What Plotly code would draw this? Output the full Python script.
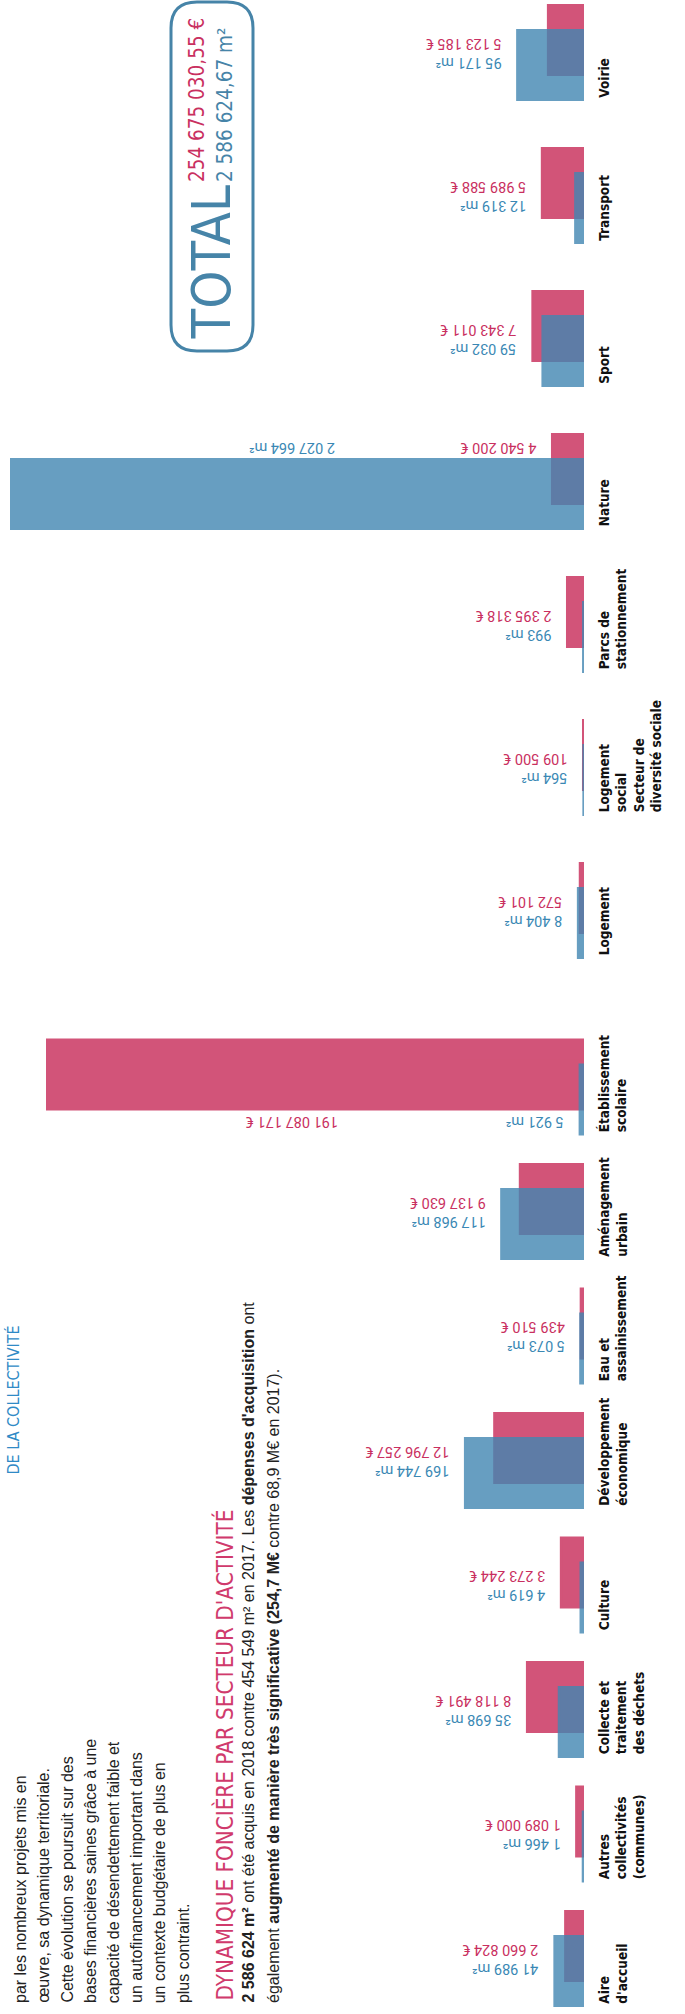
import plotly.graph_objects as go

# ---------------- data ----------------
categories = ["Voirie", "Transport", "Sport", "Nature", "Parcs de<br>stationnement",
              "Logement<br>social<br>Secteur de<br>diversité sociale", "Logement",
              "Établissement<br>scolaire", "Aménagement<br>urbain", "Eau et<br>assainissement",
              "Développement<br>économique", "Culture", "Collecte et<br>traitement<br>des déchets",
              "Autres<br>collectivités<br>(communes)", "Aire<br>d'accueil"]
depenses_eur = [5123185, 5989588, 7343011, 4540200, 2395318, 109500, 572101, 191087171,
                9137630, 439510, 12796257, 3273244, 8118491, 1089000, 2660824]
surfaces_m2 = [95171, 12319, 59032, 2027664, 993, 564, 8404, 5921, 117968, 5073, 169744,
               4619, 35698, 1466, 41989]
block_sizes = [7, 8]

total_eur_txt = "254 675 030,55 €"
total_m2_txt = "2 586 624,67 m²"

title_txt = "DYNAMIQUE FONCIÈRE PAR SECTEUR D'ACTIVITÉ"
body_lines = ["<b>2 586 624 m²</b> ont été acquis en 2018 contre 454 549 m² en 2017. Les <b>dépenses d'acquisition</b> ont",
              "également <b>augmenté de manière très significative (254,7 M€</b> contre 68,9 M€ en 2017)."]
para_lines = ["par les nombreux projets mis en", "œuvre, sa dynamique territoriale.",
              "Cette évolution se poursuit sur des", "bases financières saines grâce à une",
              "capacité de désendettement faible et", "un autofinancement important dans",
              "un contexte budgétaire de plus en", "plus contraint."]
section_txt = "DE LA COLLECTIVITÉ"

# ---------------- style / layout ----------------
W, H = 685, 2014
PINK = "rgb(210,84,121)"
BLUE = "rgb(66,134,178)"
BLUE_OP = 0.8
PINK_TXT = "#c92f60"
BLUE_TXT = "#3a88b4"
FRAME = "#4684a8"
NARROW = "Liberation Sans Narrow, DejaVu Sans Condensed, Roboto, sans-serif"
SANS = "Liberation Sans, Arial, sans-serif"
VAL_FONT = "Roboto, Liberation Sans, sans-serif"

BASE = 584          # px of bar baseline
PINK_LEFT = 46      # px left edge of euro scale window
BLUE_LEFT = 10      # px left edge of m2 scale window
EUR_PX = 7.0e-6     # px per euro
M2_PX = 0.70e-3     # px per m2
eur_max = (BASE - PINK_LEFT) / EUR_PX
m2_max = (BASE - BLUE_LEFT) / M2_PX

blocks = [dict(top=1.0, step=143.0, lo=-0.36, hi=6.45),
          dict(top=1034.7, step=124.5, lo=-0.42, hi=7.4)]
THICK = 69.5
SHIFT = 12.5
GAP = 14
LONG_LABEL_CENTER = 292   # px, centre of labels of clipped bars


def fmt(v):
    return f"{v:,}".replace(",", " ")


fig = go.Figure()
annotations = []
start = 0
for b, n in enumerate(block_sizes):
    cats = categories[start:start + n]
    eur = depenses_eur[start:start + n]
    m2 = surfaces_m2[start:start + n]
    ya = "y" if b == 0 else "y2"
    step = blocks[b]["step"]
    w = THICK / step
    s = SHIFT / step
    fig.add_trace(go.Bar(orientation="h", y=cats, x=eur, xaxis="x", yaxis=ya,
                         width=w, offset=-s - w / 2,
                         marker=dict(color=PINK, line=dict(color=PINK, width=2.5)),
                         hoverinfo="skip", showlegend=False))
    fig.add_trace(go.Bar(orientation="h", y=cats, x=m2, xaxis="x2", yaxis=ya,
                         width=w, offset=s - w / 2, opacity=BLUE_OP,
                         marker=dict(color=BLUE, line=dict(color=BLUE, width=2.5)),
                         hoverinfo="skip", showlegend=False))
    for i in range(n):
        # category label
        annotations.append(dict(text=cats[i], xref="paper", x=(BASE + 10) / W, xanchor="left",
                                yref=ya, y=i, yanchor="bottom", yshift=-(SHIFT + THICK / 2),
                                textangle=-90, align="left", showarrow=False,
                                font=dict(family=NARROW, size=13.5, color="#111111", weight="bold")))
        pe = eur[i] * EUR_PX
        pm = m2[i] * M2_PX
        eur_lbl = f"<span style='color:{PINK_TXT}'>{fmt(eur[i])} €</span>"
        m2_lbl = f"<span style='color:{BLUE_TXT}'>{fmt(m2[i])} m²</span>"
        vf = dict(family=VAL_FONT, size=14.5)
        off = 34
        if eur[i] > eur_max:
            annotations.append(dict(text=eur_lbl, xref="paper", x=LONG_LABEL_CENTER / W, xanchor="center",
                                    yref=ya, y=i, yanchor="middle", yshift=-off, textangle=180,
                                    showarrow=False, font=vf))
            annotations.append(dict(text=m2_lbl, xref="x2", x=m2[i], xanchor="right", xshift=-GAP,
                                    yref=ya, y=i, yanchor="middle", yshift=-off, textangle=180,
                                    showarrow=False, font=vf))
        elif m2[i] > m2_max:
            annotations.append(dict(text=m2_lbl, xref="paper", x=LONG_LABEL_CENTER / W, xanchor="center",
                                    yref=ya, y=i, yanchor="middle", yshift=off, textangle=180,
                                    showarrow=False, font=vf))
            annotations.append(dict(text=eur_lbl, xref="x", x=eur[i], xanchor="right", xshift=-GAP,
                                    yref=ya, y=i, yanchor="middle", yshift=off, textangle=180,
                                    showarrow=False, font=vf))
        else:
            if pe >= pm:
                xr, xv = "x", eur[i]
            else:
                xr, xv = "x2", m2[i]
            annotations.append(dict(text=m2_lbl + "<br>" + eur_lbl, xref=xr, x=xv, xanchor="right",
                                    xshift=-GAP, yref=ya, y=i, yanchor="middle", textangle=180,
                                    align="left", showarrow=False, font=vf))
    start += n


def vtext(text, x_px, y_bottom_px, size, color, family, weight="normal"):
    annotations.append(dict(text=text, xref="paper", yref="paper", x=x_px / W, y=1 - y_bottom_px / H,
                            xanchor="center", yanchor="bottom", textangle=-90, align="left",
                            showarrow=False, font=dict(family=family, size=size, color=color, weight=weight)))


for k, line in enumerate(para_lines):
    vtext(line, 20 + 23.3 * k, 2005, 16, "#222222", SANS)
vtext(title_txt, 224, 2003, 22.3, "#d03a6c", NARROW)
vtext(body_lines[0], 248, 2005, 16, "#222222", SANS)
vtext(body_lines[1], 273, 2005, 16, "#222222", SANS)
vtext(section_txt, 13, 1477, 16, "#2f8ac6", NARROW)

# TOTAL box
vtext("TOTAL", 211, 342, 54, FRAME, NARROW)
vtext(total_eur_txt, 197, 184, 20.5, PINK_TXT, NARROW)
vtext(total_m2_txt, 225, 184, 20.5, FRAME, NARROW)

bx0, bx1, by0, by1, r = 171, 253, 2, 351, 26


def P(x, y):
    return f"{x / W:.5f},{1 - y / H:.5f}"


box_path = (f"M {P(bx0 + r, by0)} L {P(bx1 - r, by0)} Q {P(bx1, by0)} {P(bx1, by0 + r)} "
            f"L {P(bx1, by1 - r)} Q {P(bx1, by1)} {P(bx1 - r, by1)} "
            f"L {P(bx0 + r, by1)} Q {P(bx0, by1)} {P(bx0, by1 - r)} "
            f"L {P(bx0, by0 + r)} Q {P(bx0, by0)} {P(bx0 + r, by0)} Z")

yA = blocks[0]
yB = blocks[1]
botA = yA["top"] + (yA["hi"] - yA["lo"]) * yA["step"]
botB = yB["top"] + (yB["hi"] - yB["lo"]) * yB["step"]

fig.update_layout(
    width=W, height=H, autosize=False,
    margin=dict(l=0, r=0, t=0, b=0, pad=0),
    paper_bgcolor="white", plot_bgcolor="rgba(0,0,0,0)",
    barmode="overlay", showlegend=False,
    xaxis=dict(domain=[PINK_LEFT / W, BASE / W], range=[eur_max, 0], visible=False, anchor="y"),
    xaxis2=dict(domain=[BLUE_LEFT / W, BASE / W], range=[m2_max, 0], visible=False, anchor="y"),
    yaxis=dict(domain=[1 - botA / H, 1 - yA["top"] / H], type="category",
               categoryorder="array", categoryarray=categories[:block_sizes[0]],
               range=[yA["hi"], yA["lo"]], visible=False, anchor="x"),
    yaxis2=dict(domain=[1 - botB / H, 1 - yB["top"] / H], type="category",
                categoryorder="array", categoryarray=categories[block_sizes[0]:],
                range=[yB["hi"], yB["lo"]], visible=False, anchor="x"),
    annotations=annotations,
    shapes=[dict(type="path", path=box_path, xref="paper", yref="paper",
                 line=dict(color=FRAME, width=3), fillcolor="rgba(0,0,0,0)")],
)

fig.write_html("out.html", config={"displayModeBar": False},
               post_script="document.body.style.margin='0';document.body.style.overflow='hidden';")
